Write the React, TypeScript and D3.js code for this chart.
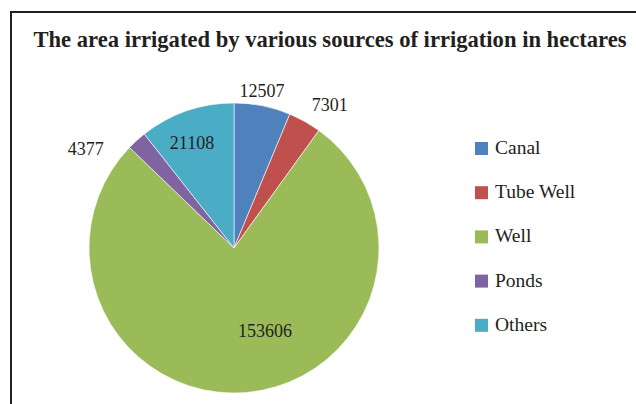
import React, { useEffect, useRef } from "react";
import * as d3 from "d3";

const sources = ["Canal", "Tube Well", "Well", "Ponds", "Others"];
const areas = [12507, 7301, 153606, 4377, 21108];
const colors = ["#4f81bd", "#c0504d", "#9bbb59", "#8064a2", "#4bacc6"];
const title = "The area irrigated by various sources of irrigation in hectares";

// label placement: [radius factor, angle shift in degrees]
const labelPlace: [number, number][] = [
  [1.1, -1.2],
  [1.19, 4.5],
  [0.61, -15.4],
  [1.23, -14],
  [0.78, -2.7],
];

const App = () => {
  const svgRef = useRef<SVGSVGElement>(null);

  useEffect(() => {
    const width = 636;
    const height = 404;
    const svg = d3.select(svgRef.current);
    svg.selectAll("*").remove();
    svg.attr("width", width).attr("height", height);

    const font = "'Liberation Serif', 'Times New Roman', serif";
    const textColor = "#231f20";

    svg.append("rect")
      .attr("x", 11)
      .attr("y", 12)
      .attr("width", 700)
      .attr("height", 500)
      .attr("fill", "white")
      .attr("stroke", textColor)
      .attr("stroke-width", 2);

    svg.append("text")
      .attr("x", 330)
      .attr("y", 47)
      .attr("text-anchor", "middle")
      .style("font-family", font)
      .style("font-weight", "bold")
      .style("font-size", "22.6px")
      .attr("fill", textColor)
      .text(title);

    const cx = 234;
    const cy = 248;
    const radius = 145;

    const data = sources.map((s, i) => ({ source: s, value: areas[i], color: colors[i], i }));

    const pie = d3.pie<any>().sort(null).value(d => d.value);
    const arcs = pie(data);
    const arc = d3.arc<any>().innerRadius(0).outerRadius(radius);

    const g = svg.append("g").attr("transform", `translate(${cx},${cy})`);

    g.selectAll("path")
      .data(arcs)
      .join("path")
      .attr("d", arc)
      .attr("fill", d => d.data.color)
      .attr("stroke", "white")
      .attr("stroke-width", 0.6);

    g.selectAll("text.lbl")
      .data(arcs)
      .join("text")
      .attr("class", "lbl")
      .attr("transform", d => {
        const [rf, shift] = labelPlace[d.data.i];
        const a = (d.startAngle + d.endAngle) / 2 + (shift * Math.PI) / 180;
        const r = radius * rf;
        return `translate(${Math.sin(a) * r},${-Math.cos(a) * r})`;
      })
      .attr("text-anchor", "middle")
      .attr("dy", "0.35em")
      .style("font-family", font)
      .style("font-size", "18px")
      .attr("fill", textColor)
      .text(d => d.data.value);

    const legend = svg.append("g").attr("transform", "translate(475,142)");
    sources.forEach((s, i) => {
      const row = legend.append("g").attr("transform", `translate(0,${i * 44.2})`);
      row.append("rect")
        .attr("width", 13)
        .attr("height", 13)
        .attr("fill", colors[i]);
      row.append("text")
        .attr("x", 20)
        .attr("y", 12)
        .style("font-family", font)
        .style("font-size", "19.5px")
        .attr("fill", textColor)
        .text(s);
    });
  }, []);

  return (
    <div style={{ position: "absolute", left: 0, top: 0 }}>
      <svg ref={svgRef}></svg>
    </div>
  );
};

export default App;
